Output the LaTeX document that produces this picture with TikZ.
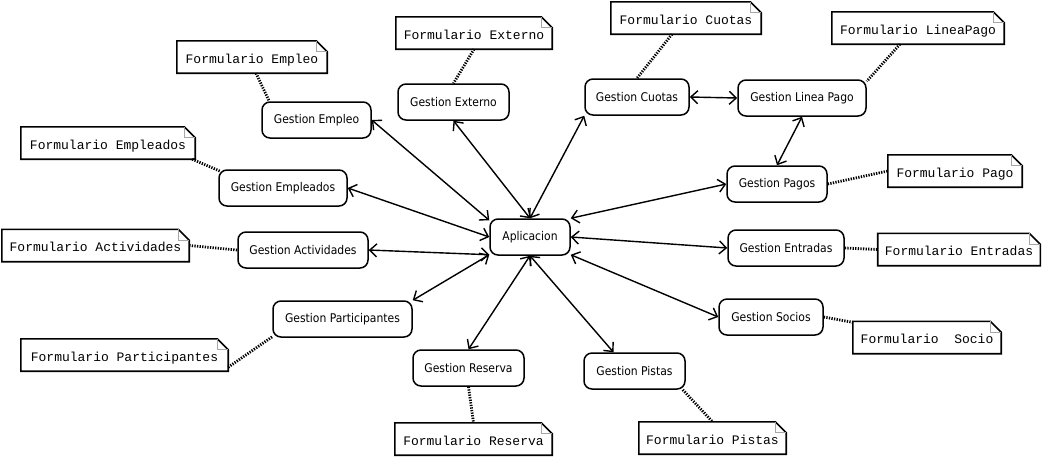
\documentclass[tikz,border=0pt]{standalone}
\usepackage{fontspec}
\setmainfont{DejaVu Sans}
\newfontfamily\boxfont[FakeStretch=0.9]{DejaVu Sans}
\newfontfamily\notefont{Liberation Mono}
\usetikzlibrary{arrows.meta}
\tikzset{
  gbox/.style={draw, line width=1.5pt, rounded corners=8pt, minimum height=36pt,
    inner xsep=8pt, font=\boxfont\fontsize{12pt}{13pt}\selectfont, fill=white},
  note/.style={minimum height=32pt, inner xsep=7pt, text height=12pt, text depth=0pt,
    font=\notefont\fontsize{13pt}{14pt}\selectfont},
  notebd/.style={draw, line width=1.6pt, line join=miter},
  foldln/.style={draw=gray!70, line width=0.9pt},
  link/.style={line width=1.4pt, {Straight Barb[length=7pt,width=13pt,line width=1.4pt]}-{Straight Barb[length=7pt,width=13pt,line width=1.4pt]}},
  dots/.style={line width=2.8pt, dash pattern=on 1.3pt off 1.3pt}
}
\begin{document}
\begin{tikzpicture}[x=1pt,y=-1pt]
\useasboundingbox[fill=white] (0,0) rectangle (1043,456);
% Gestion boxes
\node[gbox, minimum width=80pt]  (app)  at (530,237) {Aplicacion};
\node[gbox, minimum width=109pt] (emp)  at (316.5,120) {Gestion Empleo};
\node[gbox, minimum width=111pt] (ext)  at (453.5,102) {Gestion Externo};
\node[gbox, minimum width=104pt] (cuo)  at (637,97) {Gestion Cuotas};
\node[gbox, minimum width=128pt] (lin)  at (802,98) {Gestion Linea Pago};
\node[gbox, minimum width=100pt] (pag)  at (777,184) {Gestion Pagos};
\node[gbox, minimum width=116pt] (ent)  at (786,248) {Gestion Entradas};
\node[gbox, minimum width=104pt] (soc)  at (771,317) {Gestion Socios};
\node[gbox, minimum width=101pt] (pis)  at (634.5,371) {Gestion Pistas};
\node[gbox, minimum width=111pt] (res)  at (468.5,368) {Gestion Reserva};
\node[gbox, minimum width=139pt] (par)  at (342.5,319) {Gestion Participantes};
\node[gbox, minimum width=130pt] (act)  at (303,250) {Gestion Actividades};
\node[gbox, minimum width=128pt] (emp2) at (283,188) {Gestion Empleados};
% Notes
\node[note, minimum width=150pt] (fEmp) at (252,57) {Formulario Empleo};
\node[note, minimum width=156pt] (fExt) at (474,33) {Formulario Externo};
\node[note, minimum width=150pt] (fCuo) at (686,18) {Formulario Cuotas};
\node[note, minimum width=172pt] (fLin) at (918,28) {Formulario LineaPago};
\node[note, minimum width=174pt] (fEm2) at (108,143) {Formulario Empleados};
\node[note, minimum width=134pt] (fPag) at (955,171) {Formulario Pago};
\node[note, minimum width=187pt] (fAct) at (95.5,245.5) {Formulario Actividades};
\node[note, minimum width=162pt] (fEnt) at (959,249.5) {Formulario Entradas};
\node[note, minimum width=148pt] (fSoc) at (927,337.5) {Formulario\ \ Socio};
\node[note, minimum width=207pt] (fPar) at (124.5,355) {Formulario Participantes};
\node[note, minimum width=157pt] (fRes) at (473.5,439) {Formulario Reserva};
\node[note, minimum width=147pt] (fPis) at (712.5,438) {Formulario Pistas};
\foreach \n in {fEmp,fExt,fCuo,fLin,fEm2,fPag,fAct,fEnt,fSoc,fPar,fRes,fPis}{
  \draw[notebd] (\n.south west) -- (\n.north west) -- ([xshift=-11pt]\n.north east)
     -- ([yshift=-11pt]\n.north east) -- (\n.south east) -- cycle;
  \draw[foldln] ([xshift=-11pt]\n.north east) |- ([yshift=-11pt]\n.north east);
}
% Connectors
\draw[link] (emp.east) -- ([yshift=-2pt]app.north west);
\draw[link] (ext.south) -- (app.north);
\draw[link] (cuo.south west) -- (app.north);
\draw[link] (pag.west) -- (app.north east);
\draw[link] (ent.west) -- (app.east);
\draw[link] (soc.west) -- ([yshift=1pt]app.south east);
\draw[link] ([xshift=-21pt]pis.north) -- (app.south);
\draw[link] (res.north) -- (app.south);
\draw[link] (par.north east) -- ([yshift=1pt]app.south west);
\draw[link] (act.east) -- ([yshift=1pt]app.south west);
\draw[link] (emp2.east) -- (app.west);
\draw[link] (cuo.east) -- (lin.west);
\draw[link] (lin.south) -- (pag.north);
% Dotted note links
\draw[dots] ([xshift=4pt]fEmp.south) -- ([xshift=8pt]emp.north west);
\draw[dots] (fExt.south) -- (ext.north);
\draw[dots] ([xshift=-14pt]fCuo.south) -- (cuo.north);
\draw[dots] ([xshift=-18pt]fLin.south) -- ([yshift=-2pt]lin.north east);
\draw[dots] ([xshift=-3pt]fEm2.south east) -- ([xshift=2pt,yshift=-2pt]emp2.north west);
\draw[dots] (pag.east) -- (fPag.west);
\draw[dots] (fAct.east) -- (act.west);
\draw[dots] (ent.east) -- (fEnt.west);
\draw[dots] (soc.east) -- ([yshift=-1pt]fSoc.north west);
\draw[dots] ([yshift=4pt]fPar.south east) -- ([yshift=1pt]par.south west);
\draw[dots] (res.south) -- (fRes.north);
\draw[dots] ([xshift=-3pt]pis.south east) -- (fPis.north);
\end{tikzpicture}
\end{document}
